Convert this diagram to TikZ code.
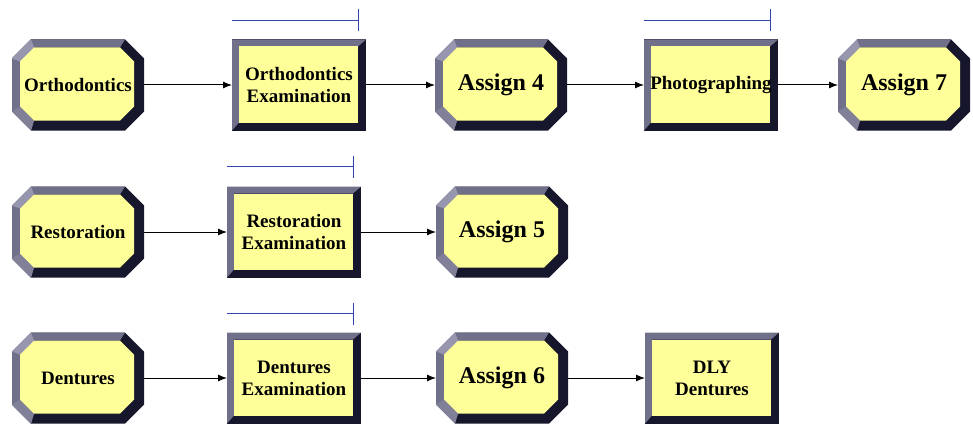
\documentclass[tikz,border=0pt]{standalone}
\usepackage{fontspec}
\setmainfont{Liberation Serif}
\usetikzlibrary{shapes,arrows.meta,calc,positioning}
\pgfdeclarelayer{background}
\pgfsetlayers{background,main}
\definecolor{boxyellow}{RGB}{255,255,153}
\definecolor{bevlight}{RGB}{112,112,138}
\definecolor{bevpale}{RGB}{150,150,174}
\definecolor{bevmid}{RGB}{128,128,152}
\definecolor{bevdark}{RGB}{22,22,44}
\definecolor{barblue}{RGB}{48,68,170}
% bevelled octagon behind node #1, width #2, height #3
\newcommand{\octbevel}[3]{%
\begin{scope}[shift={(#1.south west)}]
\fill[bevdark] (19,0) -- (#2-19,0) -- (#2,19) -- (#2,#3-19) -- (#2-19,#3) -- (19,#3) -- (0,#3-19) -- (0,19) -- cycle;
\fill[bevlight] (19,0) -- (0,19) -- (0,#3-19) -- (19,#3) -- (#2-19,#3) -- (#2-24,#3-8) -- (22,#3-8) -- (8,#3-22) -- (8,24) -- (22,10) -- cycle;
\fill[bevpale] (0,#3-19) -- (19,#3) -- (22,#3-8) -- (8,#3-22) -- cycle;
\fill[bevmid] (19,0) -- (0,19) -- (8,24) -- (22,10) -- cycle;
\fill[boxyellow] (22,10) -- (#2-24,10) -- (#2-10,24) -- (#2-10,#3-22) -- (#2-24,#3-8) -- (22,#3-8) -- (8,#3-22) -- (8,24) -- cycle;
\end{scope}}
% bevelled box behind node #1
\newcommand{\procbevel}[3]{%
\begin{scope}[shift={(#1.south west)}]
\fill[bevdark] (0,0) rectangle (#2,#3);
\fill[bevlight] (0,0) -- (0,#3) -- (#2,#3) -- (#2-8,#3-7) -- (7,#3-7) -- (7,8) -- cycle;
\fill[boxyellow] (7,8) rectangle (#2-8,#3-7);
\end{scope}}
\tikzstyle{octbox} = [rectangle, minimum width=132pt, minimum height=91pt,
inner sep=0pt, outer sep=0pt, align=center, font=\bfseries\fontsize{19}{22}\selectfont]
\tikzstyle{assign} = [font=\bfseries\fontsize{24}{28}\selectfont]
\tikzstyle{procbox} = [rectangle, minimum width=134pt, minimum height=91pt,
inner sep=0pt, outer sep=0pt, align=center, font=\bfseries\fontsize{19}{22}\selectfont]
\tikzstyle{line} = [draw, line width=1pt, -{Latex[length=9pt,width=7pt]}]
\tikzstyle{resbar} = [draw=barblue, line width=1.5pt, -{Bar[width=22pt]}]
\begin{document}
\begin{tikzpicture}[x=1pt, y=1pt]
\useasboundingbox (0,0) rectangle (973,-425);
% orthodontics row
\node [octbox] (ortho) at (78,-85) {Orthodontics};
\node [procbox, right = 88pt of ortho] (orthoexam) {Orthodontics\\Examination};
\node [octbox, assign, right = 69pt of orthoexam] (assign4) {Assign 4};
\node [procbox, right = 77pt of assign4] (photo) {Photographing};
\node [octbox, assign, right = 60pt of photo] (assign7) {Assign 7};
% restoration row
\node [octbox, below = 56pt of ortho] (restor) {Restoration};
\node [procbox, right = 83pt of restor] (restorexam) {Restoration\\Examination};
\node [octbox, assign, right = 75pt of restorexam] (assign5) {Assign 5};
% dentures row
\node [octbox, below = 55pt of restor] (dent) {Dentures};
\node [procbox, right = 83pt of dent] (dentexam) {Dentures\\Examination};
\node [octbox, assign, right = 75pt of dentexam] (assign6) {Assign 6};
\node [procbox, right = 77pt of assign6] (dly) {DLY\\Dentures};
% bevelled frames
\begin{pgfonlayer}{background}
\foreach \n in {ortho,assign4,assign7,restor,assign5,dent,assign6}
  {\octbevel{\n}{132}{91}}
\foreach \n in {orthoexam,photo,restorexam,dentexam,dly}
  {\procbevel{\n}{134}{91}}
\end{pgfonlayer}
% resource bars
\path [resbar] ($(orthoexam.north west)+(0,19)$) -- ($(orthoexam.north east)+(-7,19)$);
\path [resbar] ($(photo.north west)+(0,19)$) -- ($(photo.north east)+(-7,19)$);
\path [resbar] ($(restorexam.north west)+(0,20)$) -- ($(restorexam.north east)+(-7,20)$);
\path [resbar] ($(dentexam.north west)+(0,19)$) -- ($(dentexam.north east)+(-7,19)$);
% connectors
\path [line] (ortho) -- (orthoexam);
\path [line] (orthoexam) -- (assign4);
\path [line] (assign4) -- (photo);
\path [line] (photo) -- (assign7);
\path [line] (restor) -- (restorexam);
\path [line] (restorexam) -- (assign5);
\path [line] (dent) -- (dentexam);
\path [line] (dentexam) -- (assign6);
\path [line] (assign6) -- (dly);
\end{tikzpicture}
\end{document}
